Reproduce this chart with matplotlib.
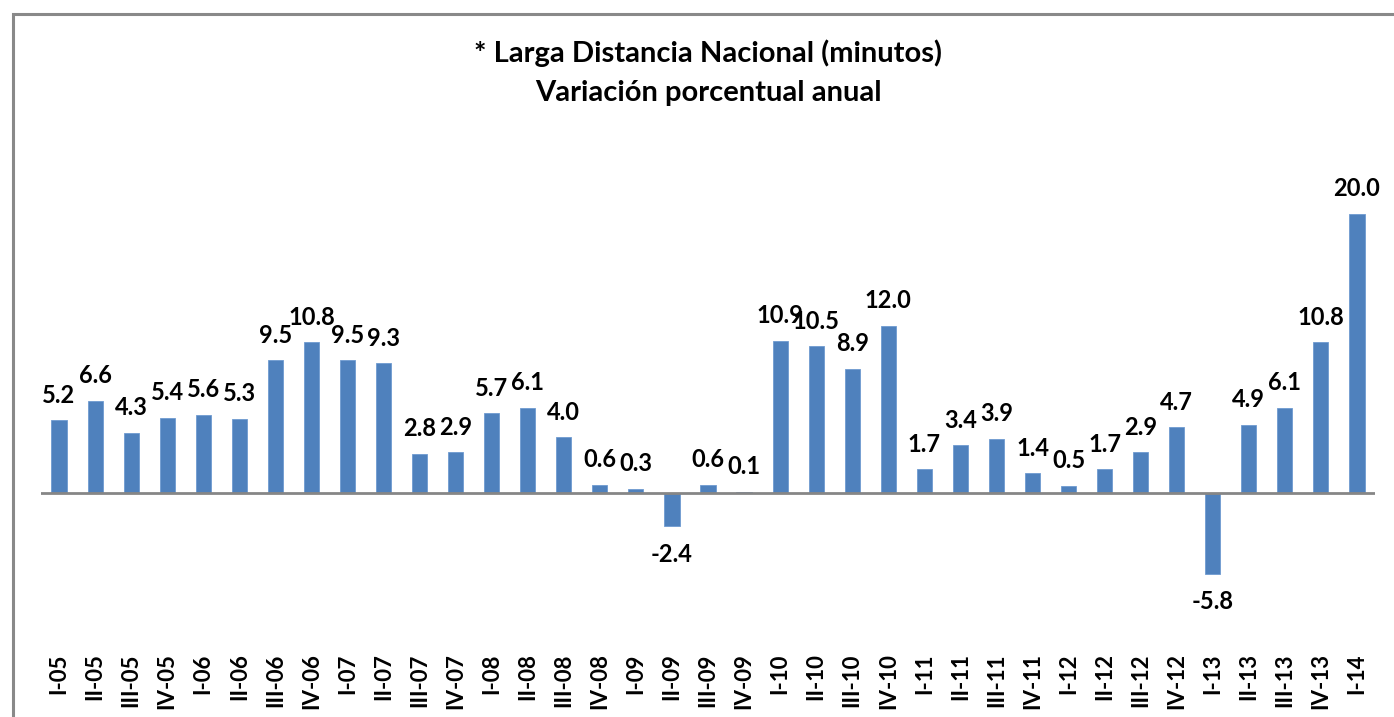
import numpy as np
import matplotlib.pyplot as plt
from matplotlib.patches import Rectangle

# Larga Distancia Nacional (minutos) - variacion porcentual anual
quarters = ['I-05', 'II-05', 'III-05', 'IV-05', 'I-06', 'II-06', 'III-06', 'IV-06',
            'I-07', 'II-07', 'III-07', 'IV-07', 'I-08', 'II-08', 'III-08', 'IV-08',
            'I-09', 'II-09', 'III-09', 'IV-09', 'I-10', 'II-10', 'III-10', 'IV-10',
            'I-11', 'II-11', 'III-11', 'IV-11', 'I-12', 'II-12', 'III-12', 'IV-12',
            'I-13', 'II-13', 'III-13', 'IV-13', 'I-14']
variation = [5.2, 6.6, 4.3, 5.4, 5.6, 5.3, 9.5, 10.8,
             9.5, 9.3, 2.8, 2.9, 5.7, 6.1, 4.0, 0.6,
             0.3, -2.4, 0.6, 0.1, 10.9, 10.5, 8.9, 12.0,
             1.7, 3.4, 3.9, 1.4, 0.5, 1.7, 2.9, 4.7,
             -5.8, 4.9, 6.1, 10.8, 20.0]

plt.rcParams['font.family'] = ['Lato', 'DejaVu Sans']
plt.rcParams['font.weight'] = 'bold'

W, H = 1394, 717
fig = plt.figure(figsize=(W/100, H/100), dpi=100)

# gray outer frame (only top and left are visible in the original)
fig.patches.append(Rectangle((13/W, -0.2), 1.2, 1.2 - 14/H, transform=fig.transFigure,
                             fill=False, edgecolor='#898989', linewidth=2.2))

ax = fig.add_axes([41/W, 72/H, (1375-41)/W, (645-186)/H])
x = np.arange(len(quarters))
ax.bar(x, variation, width=0.42, color='#4F81BD', edgecolor='#6F9AD0', linewidth=0.6, zorder=2)
ax.axhline(0, color='#868686', linewidth=2, zorder=3)

for xi, v in zip(x, variation):
    off = 18 if v >= 0 else -20
    ax.annotate(f'{v:.1f}', (xi, v), xytext=(0, off), textcoords='offset points',
                ha='center', va='center', fontsize=17, fontweight='bold')

ax.set_xlim(-0.5, len(quarters) - 0.5)
ax.set_ylim(-10.9, 22)
ax.set_xticks(x)
ax.set_xticklabels(quarters, rotation=90, fontsize=16, fontweight='bold')
ax.tick_params(axis='x', length=0, pad=6)
ax.set_yticks([])
for s in ax.spines.values():
    s.set_visible(False)

fig.text(708/W, 1 - 53/H, '* Larga Distancia Nacional (minutos)', ha='center', va='center',
         fontsize=21, fontweight='bold')
fig.text(708/W, 1 - 93/H, 'Variación porcentual anual', ha='center', va='center',
         fontsize=21, fontweight='bold')

fig.savefig('out.png', dpi=100)
